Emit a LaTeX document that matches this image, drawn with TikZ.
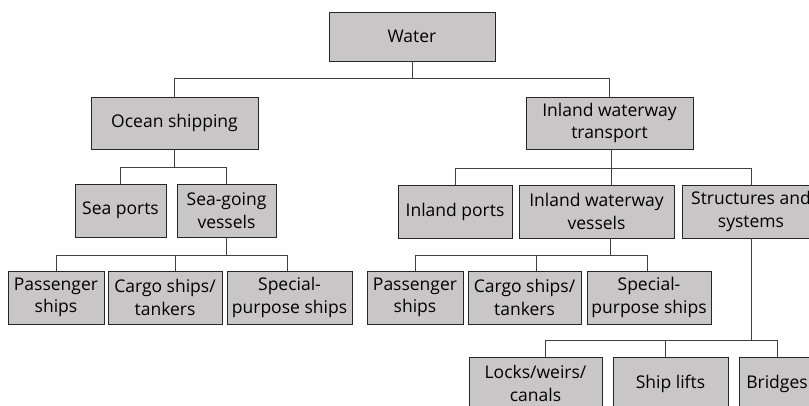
\documentclass[tikz,border=0pt]{standalone}
\usepackage{fontspec}
\setmainfont{Open Sans}
\begin{document}
\begin{tikzpicture}[x=1pt,y=-1pt,
  box/.style={draw=black!85,line width=0.8pt,fill=boxgray,inner sep=0pt,align=center,
    font=\fontsize{17.5}{22.5}\selectfont,minimum height=53pt},
  conn/.style={draw=black!75,line width=0.9pt}]
\definecolor{boxgray}{RGB}{200,198,198}
\useasboundingbox (0,0) rectangle (809,406);
% nodes
\node[box,minimum width=166pt,minimum height=49pt] (water) at (412,36.5) {Water};
\node[box,minimum width=167pt,minimum height=52pt] (ocean) at (174.5,123) {Ocean shipping};
\node[box,minimum width=167pt,minimum height=52pt] (iwt) at (609.5,123) {Inland waterway\\transport};
\node[box,minimum width=91pt] (seaports) at (120.5,210.5) {Sea ports};
\node[box,minimum width=99pt] (seagoing) at (226.5,210.5) {Sea-going\\vessels};
\node[box,minimum width=114pt] (inports) at (455,211.5) {Inland ports};
\node[box,minimum width=155pt] (ivessels) at (596.5,211.5) {Inland waterway\\vessels};
\node[box,minimum width=138pt] (struct) at (751,211.5) {Structures and\\systems};
\node[box,minimum width=96pt] (pass1) at (56,297.5) {Passenger\\ships};
\node[box,minimum width=114pt] (cargo1) at (165,297.5) {Cargo ships/\\tankers};
\node[box,minimum width=125pt] (spec1) at (289.5,297.5) {Special-\\purpose ships};
\node[box,minimum width=96pt] (pass2) at (415,297.5) {Passenger\\ships};
\node[box,minimum width=113pt] (cargo2) at (524.5,297.5) {Cargo ships/\\tankers};
\node[box,minimum width=124pt] (spec2) at (649,297.5) {Special-\\purpose ships};
\node[box,minimum width=133pt] (locks) at (535.5,383.5) {Locks/weirs/\\canals};
\node[box,minimum width=115pt] (lifts) at (670.5,383.5) {Ship lifts};
\node[box,minimum width=76pt] (bridges) at (777,383.5) {Bridges};
% bus coordinates
\coordinate (b0) at (0,78);
\coordinate (b1) at (0,167);
\coordinate (b2) at (0,168.5);
\coordinate (b3) at (0,255);
\coordinate (b4) at (0,255);
\coordinate (b5) at (0,340);
% Water
\draw[conn] (water.south) -- (water.south |- b0);
\draw[conn] (ocean.north) |- (b0 -| iwt.north) -- (iwt.north);
% Ocean shipping
\draw[conn] (ocean.south) -- (ocean.south |- b1);
\draw[conn] (seaports.north) |- (b1 -| seagoing.north) -- (seagoing.north);
% Inland waterway transport
\draw[conn] ([xshift=1.5pt]iwt.south) -- ([xshift=1.5pt]iwt.south |- ivessels.north);
\draw[conn] (inports.north) |- (b2 -| struct.north) -- (struct.north);
% Sea-going vessels
\draw[conn] (seagoing.south) -- (seagoing.south |- b3);
\draw[conn] (pass1.north) |- ([xshift=-2.5pt]b3 -| spec1.north) -- ([xshift=-2.5pt]spec1.north);
\draw[conn] ([xshift=10pt]cargo1.north) -- ([xshift=10pt]cargo1.north |- b3);
% Inland waterway vessels
\draw[conn] ([xshift=13.5pt]ivessels.south) -- ([xshift=13.5pt]ivessels.south |- b4);
\draw[conn] (pass2.north) |- ([xshift=-2pt]b4 -| spec2.north) -- ([xshift=-2pt]spec2.north);
\draw[conn] ([xshift=11.5pt]cargo2.north) -- ([xshift=11.5pt]cargo2.north |- b4);
% Structures and systems
\draw[conn] (struct.south) -- (struct.south |- b5);
\draw[conn] ([xshift=9.5pt]locks.north) |- (b5 -| bridges.north) -- (bridges.north);
\draw[conn] ([xshift=-5.5pt]lifts.north) -- ([xshift=-5.5pt]lifts.north |- b5);
\end{tikzpicture}
\end{document}
